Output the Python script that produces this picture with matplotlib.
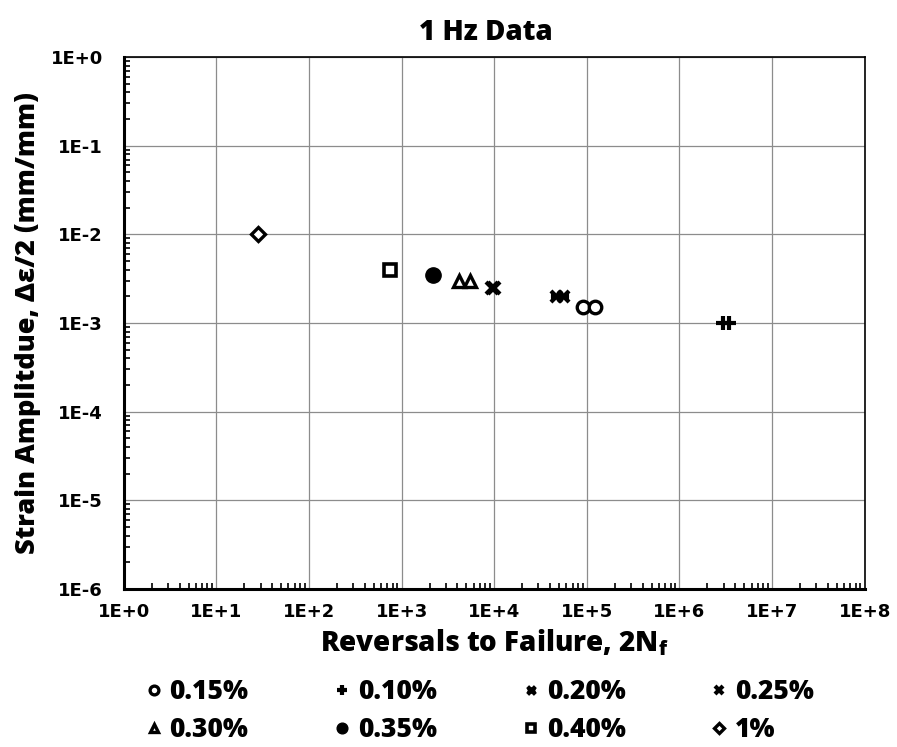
import matplotlib
matplotlib.use("Agg")
import matplotlib.pyplot as plt
from matplotlib.path import Path
from matplotlib.ticker import FixedLocator, FuncFormatter, LogLocator, NullFormatter
import numpy as np

plt.rcParams['font.family'] = ['Open Sans', 'DejaVu Sans']
plt.rcParams['font.weight'] = 'heavy'
plt.rcParams['mathtext.fontset'] = 'custom'
plt.rcParams['mathtext.bf'] = 'Open Sans:heavy'

# 数据: 反向次数 2Nf 与应变幅值
labels = ['0.15%', '0.10%', '0.20%', '0.25%', '0.30%', '0.35%', '0.40%', '1%']
x_015 = [9.1e4, 1.23e5]
y_015 = [0.0015, 0.0015]
x_010 = [2.95e6, 3.4e6]
y_010 = [0.001, 0.001]
x_020 = [4.7e4, 5.5e4]
y_020 = [0.002, 0.002]
x_025 = [9.5e3, 1.0e4]
y_025 = [0.0025, 0.0025]
x_030 = [4.15e3, 5.45e3]
y_030 = [0.003, 0.003]
x_035 = [2.2e3]
y_035 = [0.0035]
x_040 = [7.5e2]
y_040 = [0.004]
x_1 = [28]
y_1 = [0.01]

# Excel 风格的星形标记: x 加一条横线
star = Path([(-1, -1), (1, 1), (-1, 1), (1, -1), (-1, 0), (1, 0)],
            [Path.MOVETO, Path.LINETO, Path.MOVETO, Path.LINETO, Path.MOVETO, Path.LINETO])

series = [
    (x_015, y_015, dict(marker='o', ms=9, mfc='white', mew=2.4)),
    (x_010, y_010, dict(marker='+', ms=10, mew=3)),
    (x_020, y_020, dict(marker=star, ms=8, mew=3)),
    (x_025, y_025, dict(marker='x', ms=8, mew=3)),
    (x_030, y_030, dict(marker='^', ms=9, mfc='white', mew=2.4)),
    (x_035, y_035, dict(marker='o', ms=11, mfc='black', mew=1)),
    (x_040, y_040, dict(marker='s', ms=9, mfc='white', mew=2.6)),
    (x_1, y_1, dict(marker='D', ms=7, mfc='white', mew=2.4)),
]

fig = plt.figure(figsize=(8.97, 7.47), dpi=100)
ax = fig.add_axes([0.138, 0.2115, 0.826, 0.712])

handles = []
for (xs, ys, style), lab in zip(series, labels):
    h, = ax.plot(xs, ys, ls='none', color='black', mec='black', label=lab, **style)
    handles.append(h)

ax.set_xscale('log')
ax.set_yscale('log')
ax.set_xlim(1, 1e8)
ax.set_ylim(1e-6, 1)

ax.xaxis.set_major_locator(FixedLocator(10.0 ** np.arange(0, 9)))
ax.yaxis.set_major_locator(FixedLocator(10.0 ** np.arange(-6, 1)))
ax.xaxis.set_minor_locator(LogLocator(base=10, subs=np.arange(2, 10), numticks=20))
ax.yaxis.set_minor_locator(LogLocator(base=10, subs=np.arange(2, 10), numticks=20))
ax.xaxis.set_minor_formatter(NullFormatter())
ax.yaxis.set_minor_formatter(NullFormatter())
fmt = FuncFormatter(lambda v, p: "1E{:+d}".format(int(round(np.log10(v)))))
ax.xaxis.set_major_formatter(fmt)
ax.yaxis.set_major_formatter(fmt)

ax.grid(True, which='major', color='#8c8c8c', lw=0.9)
ax.tick_params(which='major', length=0, labelsize=13)
ax.tick_params(axis='x', which='major', pad=10)
ax.tick_params(axis='y', which='major', pad=15)
ax.tick_params(which='minor', direction='in', length=4, width=1.2, color='black')
for lab in ax.get_xticklabels() + ax.get_yticklabels():
    lab.set_fontweight('bold')
    lab.set_family('DejaVu Sans')

for s in ['left', 'bottom']:
    ax.spines[s].set_linewidth(2.2)
for s in ['top', 'right']:
    ax.spines[s].set_linewidth(1.2)

ax.set_title('1 Hz Data', fontsize=20, fontweight='heavy', pad=12, x=0.489)
ax.set_xlabel(r'Reversals to Failure, 2N$_\mathbf{f}$', fontsize=20, fontweight='heavy', labelpad=5)
ax.set_ylabel('Strain Amplitdue, Δε/2 (mm/mm)', fontsize=19.5, fontweight='heavy', labelpad=7)

# 图例按行排列 (ncol=4 时按列填充, 所以重新排序)
order = [0, 4, 1, 5, 2, 6, 3, 7]
fig.legend(handles=[handles[i] for i in order], labels=[labels[i] for i in order],
           loc='upper center', bbox_to_anchor=(0.535, 0.123),
           ncol=4, frameon=False, markerscale=0.7, handlelength=0.6, handletextpad=0.3,
           columnspacing=3.25, prop={'size': 19, 'weight': 'heavy'}, labelspacing=0.45)

plt.savefig('out.png', dpi=100)
